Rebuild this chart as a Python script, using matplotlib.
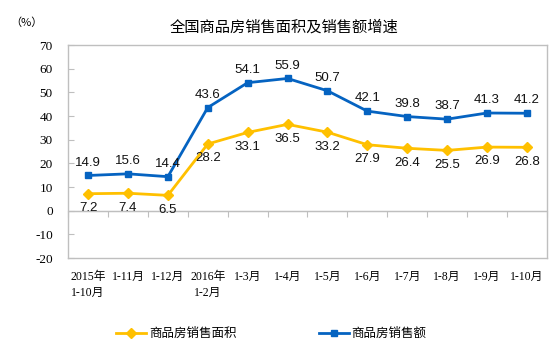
import matplotlib
matplotlib.use("Agg")
import matplotlib.pyplot as plt
import numpy as np

categories = ["2015年\n1-10月", "1-11月", "1-12月", "2016年\n1-2月", "1-3月", "1-4月",
              "1-5月", "1-6月", "1-7月", "1-8月", "1-9月", "1-10月"]
area = [7.2, 7.4, 6.5, 28.2, 33.1, 36.5, 33.2, 27.9, 26.4, 25.5, 26.9, 26.8]
amount = [14.9, 15.6, 14.4, 43.6, 54.1, 55.9, 50.7, 42.1, 39.8, 38.7, 41.3, 41.2]
yticks = [-20, -10, 0, 10, 20, 30, 40, 50, 60, 70]
series_names = ["商品房销售面积", "商品房销售额"]

cjk_sans = ["Noto Sans CJK SC", "DejaVu Sans"]
serif_cjk = ["Liberation Serif", "Noto Sans CJK SC"]
num_font = ["Liberation Sans", "DejaVu Sans"]

plt.rcParams["font.family"] = cjk_sans

fig = plt.figure(figsize=(5.54, 3.55), dpi=100)
ax = fig.add_axes([0.123, 0.273, 0.864, 0.600])

yellow = "#FFC000"
blue = "#0563C1"
grey = "#BFBFBF"

x = np.arange(len(categories))
ax.plot(x, area, color=yellow, lw=2, marker="D", ms=5, label=series_names[0], zorder=3)
ax.plot(x, amount, color=blue, lw=2, marker="s", ms=5, label=series_names[1], zorder=3)

for xi, v in zip(x, area):
    ax.annotate(f"{v}", (xi, v), xytext=(0, -6), textcoords="offset points",
                ha="center", va="top", fontsize=9.5, family=num_font, color="#111111")
for xi, v in zip(x, amount):
    ax.annotate(f"{v}", (xi, v), xytext=(0, 5), textcoords="offset points",
                ha="center", va="bottom", fontsize=9.5, family=num_font, color="#111111")

ax.set_xlim(-0.5, len(categories) - 0.5)
ax.set_ylim(-20, 70)
ax.set_yticks(yticks)
ax.set_yticklabels([str(t) for t in yticks], family=serif_cjk, fontsize=9.5)
ax.tick_params(axis="y", direction="in", length=4, color=grey, pad=11)
ax.set_xticks(x)
ax.set_xticklabels(categories, family=serif_cjk, fontsize=8.5, linespacing=1.5)
ax.tick_params(axis="x", length=0, pad=9)
for lbl in ax.get_xticklabels():
    lbl.set_va("top")

for s in ax.spines.values():
    s.set_color(grey)
    s.set_linewidth(1)

# zero line with category separators
ax.axhline(0, color=grey, lw=1, zorder=1)
sec = ax.secondary_xaxis(0, transform=ax.transData)
sec.set_xticks(np.arange(len(categories) + 1) - 0.5)
sec.tick_params(axis="x", direction="out", length=4, color=grey, labelbottom=False)
sec.spines["bottom"].set_color(grey)

fig.text(0.512, 0.925, "全国商品房销售面积及销售额增速", ha="center", va="center",
         fontsize=11, family=cjk_sans)
fig.text(0.018, 0.937, "（%）", ha="left", va="center", fontsize=8, family=cjk_sans)

leg = fig.legend(loc="center", bbox_to_anchor=(0.49, 0.06), ncol=2, frameon=False,
                 fontsize=9, handlelength=2.4, columnspacing=6.6, handletextpad=0.2)

fig.savefig("out.png", dpi=100)
